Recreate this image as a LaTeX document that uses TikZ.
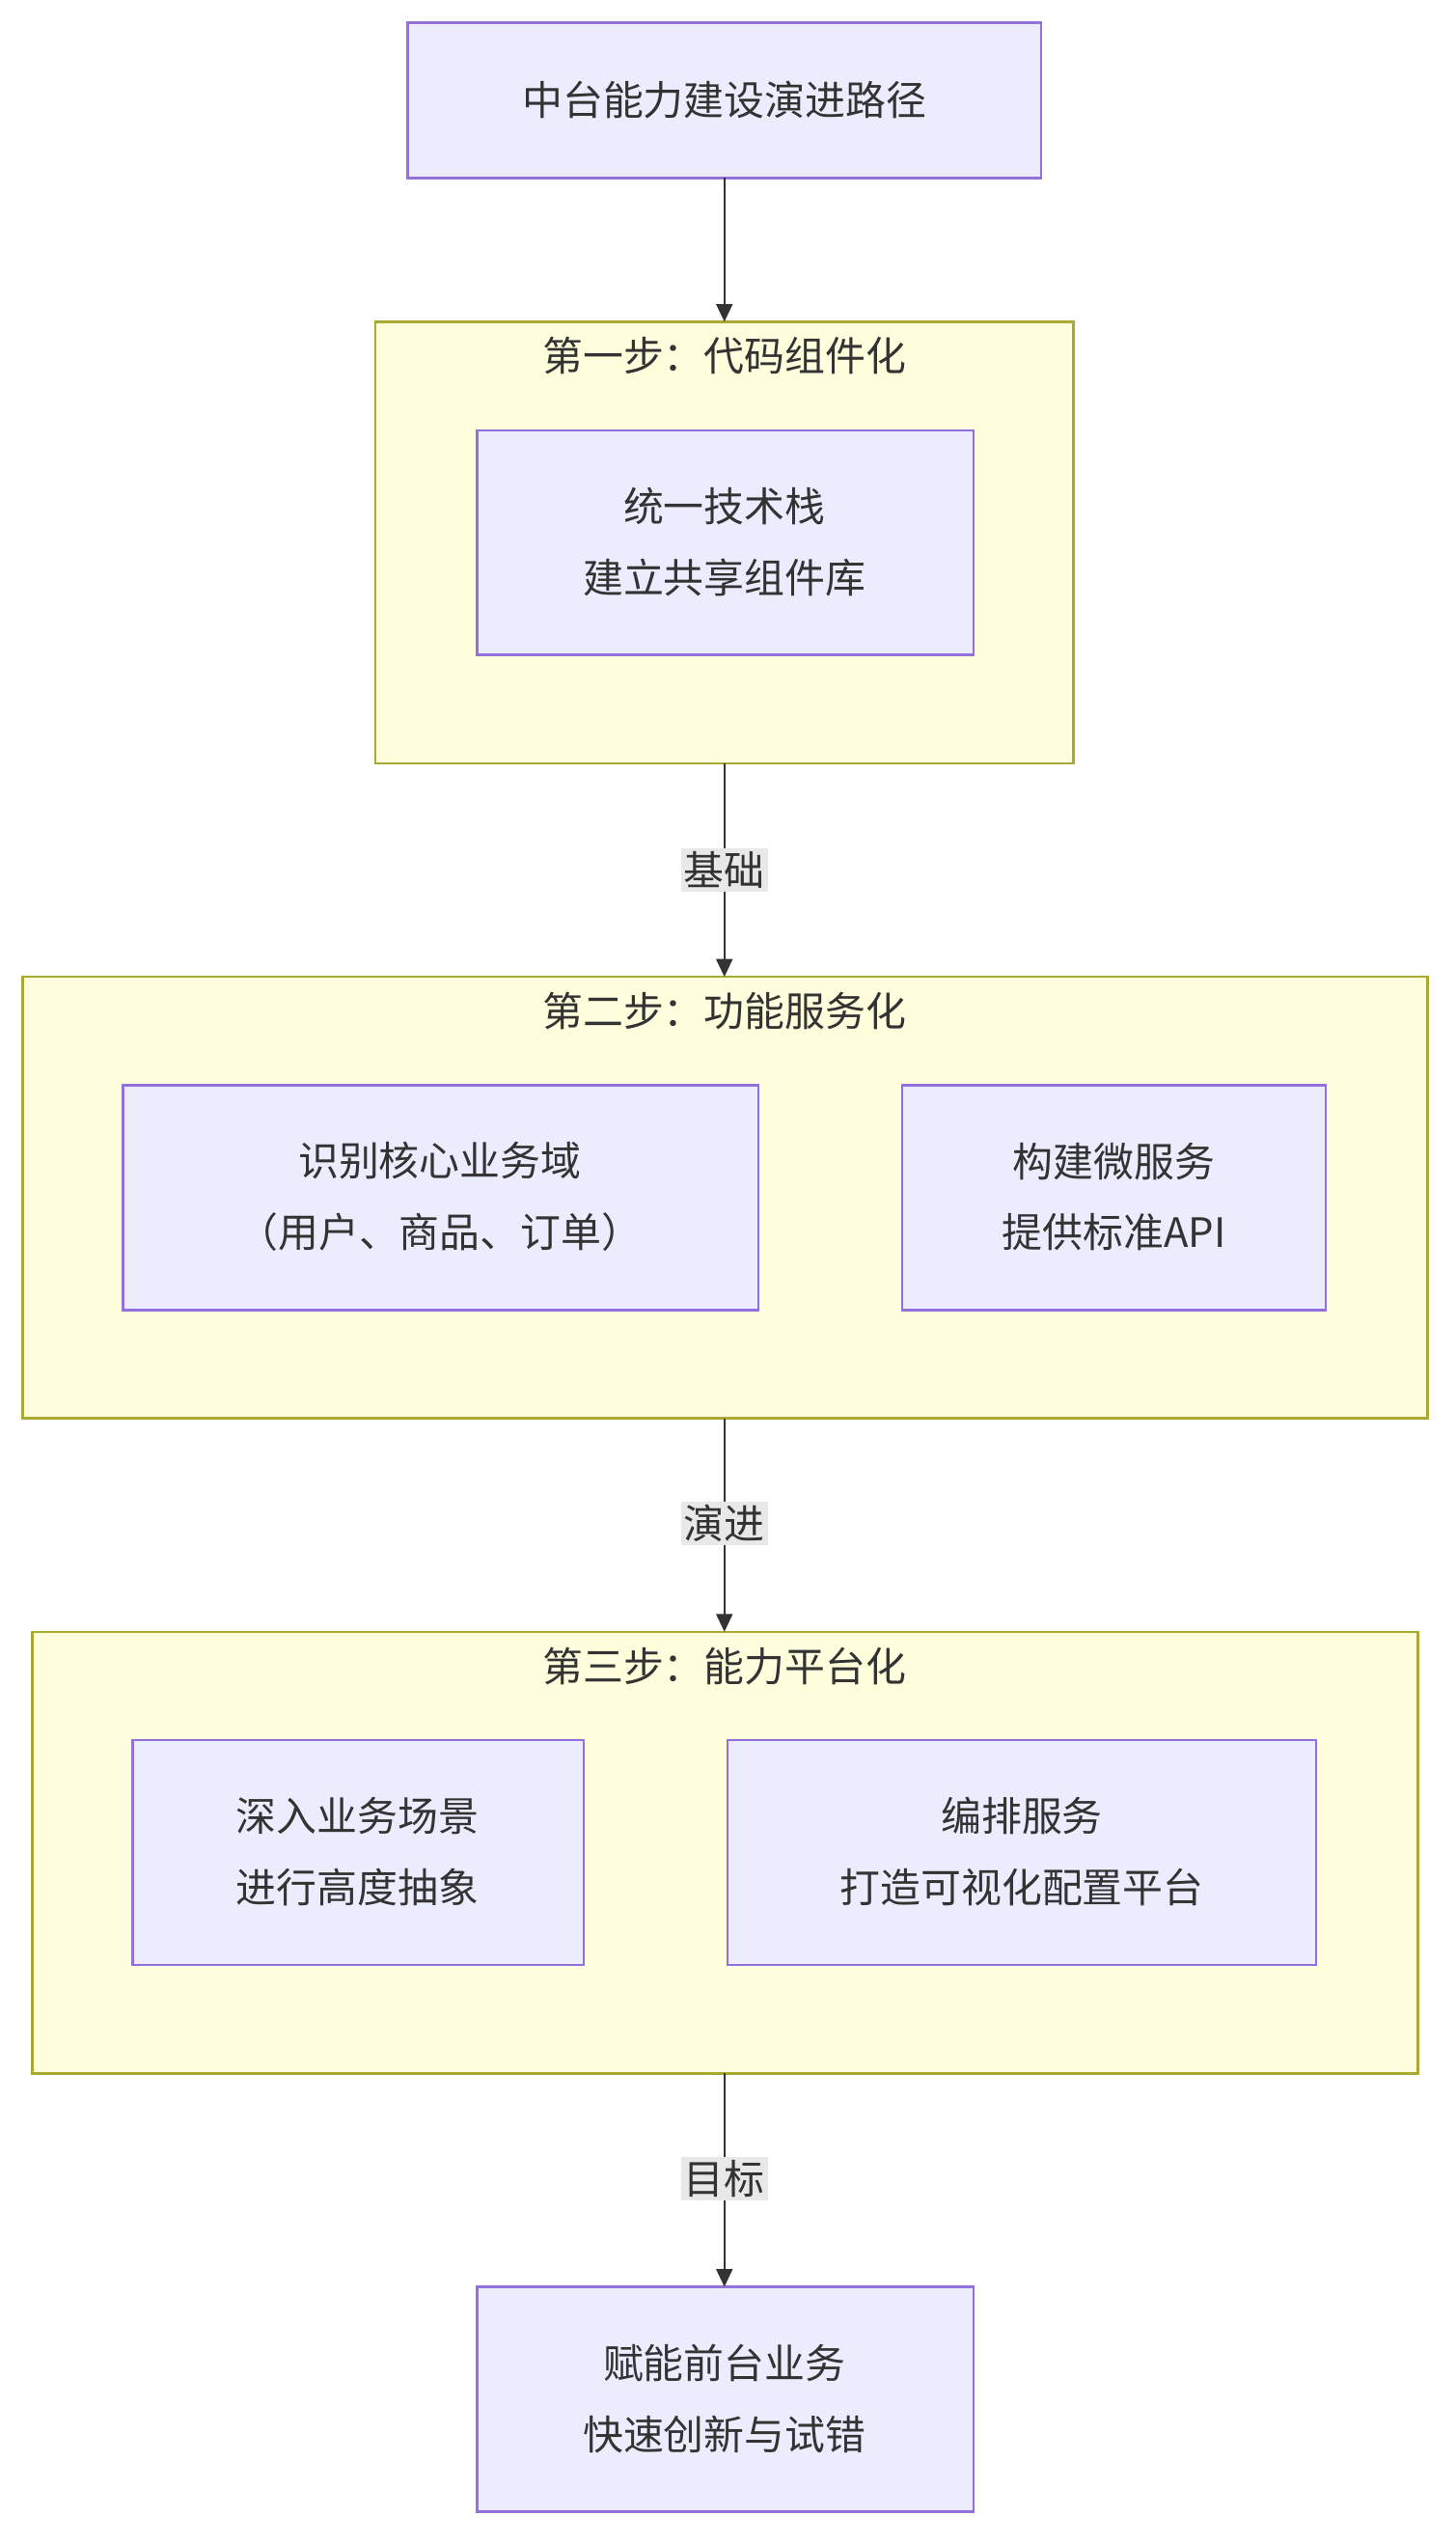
\documentclass[tikz,border=0pt]{standalone}
\usepackage{fontspec}
\setmainfont{Noto Sans CJK SC}
\usetikzlibrary{arrows.meta}
\definecolor{nfill}{HTML}{ECECFF}\definecolor{nline}{HTML}{9370DB}
\definecolor{cfill}{HTML}{FFFFDE}\definecolor{cline}{HTML}{AAAA33}
\definecolor{lbg}{HTML}{E8E8E8}\definecolor{ed}{HTML}{333333}
\begin{document}
\begin{tikzpicture}[x=1pt,y=-1pt,
  box/.style={draw=nline,fill=nfill,line width=1.5pt},
  clu/.style={draw=cline,fill=cfill,line width=1.5pt},
  txt/.style={font=\fontsize{25}{44}\selectfont,text=ed,align=center},
  lab/.style={fill=lbg,font=\fontsize{25}{30}\selectfont,text=ed,inner sep=2pt},
  arr/.style={draw=ed,line width=1.5pt,-{Triangle[length=11pt,width=10pt]}}]
\useasboundingbox[fill=white] (0,0) rectangle (900,1573);
% top
\draw[box] (252,14) rectangle (644,110);
\node[txt] (top) at (448,62) {中台能力建设演进路径};
\coordinate (topb) at (448,110);
% cluster 1
\draw[clu] (232,199) rectangle (664,472);
\coordinate (c1t) at (448,199); \coordinate (c1b) at (448,472);
\node[txt] (t1) at (448,220) {第一步：代码组件化};
\draw[box] (295,266) rectangle (602,405);
\node[txt] (n1) at (448,335) {统一技术栈\\建立共享组件库};
% cluster 2
\draw[clu] (14,604) rectangle (883,877);
\coordinate (c2t) at (448,604); \coordinate (c2b) at (448,877);
\node[txt] (t2) at (448,625) {第二步：功能服务化};
\draw[box] (76,671) rectangle (469,810);
\node[txt] (n2a) at (272,740) {识别核心业务域\\（用户、商品、订单）};
\draw[box] (558,671) rectangle (820,810);
\node[txt] (n2b) at (689,740) {构建微服务\\提供标准API};
% cluster 3
\draw[clu] (20,1009) rectangle (877,1282);
\coordinate (c3t) at (448,1009); \coordinate (c3b) at (448,1282);
\node[txt] (t3) at (448,1030) {第三步：能力平台化};
\draw[box] (82,1076) rectangle (361,1215);
\node[txt] (n3a) at (221,1145) {深入业务场景\\进行高度抽象};
\draw[box] (450,1076) rectangle (814,1215);
\node[txt] (n3b) at (632,1145) {编排服务\\打造可视化配置平台};
% bottom
\draw[box] (295,1414) rectangle (602,1553);
\coordinate (bt) at (448,1414);
\node[txt] (bot) at (448,1483) {赋能前台业务\\快速创新与试错};
% edges
\draw[arr] (topb) -- (c1t);
\draw[arr] (c1b) -- (c2t);
\draw[arr] (c2b) -- (c3t);
\draw[arr] (c3b) -- (bt);
\node[lab] (l1) at (448,538) {基础};
\node[lab] (l2) at (448,942) {演进};
\node[lab] (l3) at (448,1347) {目标};
\end{tikzpicture}
\end{document}
